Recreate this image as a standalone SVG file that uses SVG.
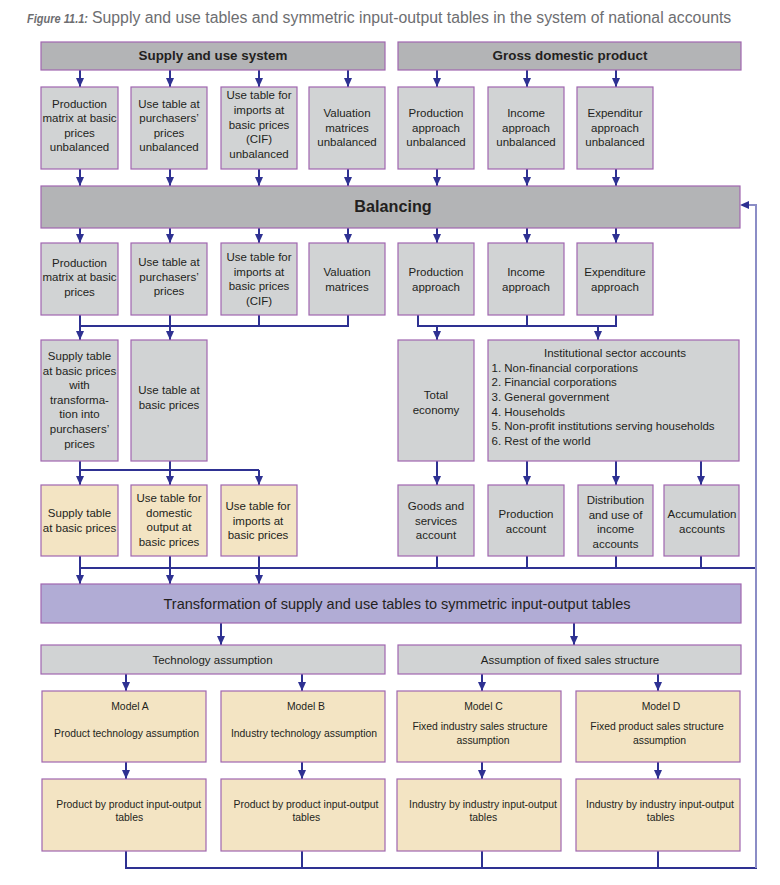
<svg xmlns="http://www.w3.org/2000/svg" width="780" height="885" viewBox="0 0 780 885">
<style>
.bx{stroke:#a066b0;stroke-width:1.2}
.hd{fill:#b3b4b6}
.gr{fill:#d1d3d4}
.bg{fill:#f3e4c3}
.lv{fill:#b1acd5}
text{font-family:"Liberation Sans",Arial,sans-serif;fill:#231f20}
.t{font-size:11.5px;text-anchor:middle}
.tl{font-size:11.5px}
.m{font-size:10.4px;text-anchor:middle}
.h{font-size:13.4px;font-weight:bold;text-anchor:middle}
.c{fill:none;stroke:#2e3192;stroke-width:2}
.a{fill:none;stroke:#2e3192;stroke-width:2;marker-end:url(#ah)}
.lt{fill:none;stroke:#8b8dc6;stroke-width:2}
</style>
<defs>
<marker id="ah" markerUnits="userSpaceOnUse" markerWidth="10" markerHeight="9" refX="9" refY="4" orient="auto">
<path d="M0,0 L9,4 L0,8 z" fill="#2e3192"/>
</marker>
</defs>
<rect width="780" height="885" fill="#ffffff"/>
<g id="title">
<text x="27" y="23" font-size="13" font-weight="bold" font-style="italic" style="fill:#6d6e71" textLength="61" lengthAdjust="spacingAndGlyphs">Figure 11.1:</text>
<text x="92" y="23" font-size="15.8" style="fill:#6d6e71">Supply and use tables and symmetric input-output tables in the system of national accounts</text>
</g>

<g id="connectors">
<!-- header to row2 -->
<path class="a" d="M80,70V87"/>
<path class="a" d="M170,70V87"/>
<path class="a" d="M259,70V87"/>
<path class="a" d="M348,70V87"/>
<path class="a" d="M437,70V87"/>
<path class="a" d="M527,70V87"/>
<path class="a" d="M616,70V87"/>
<!-- row2 to balancing -->
<path class="a" d="M80,169V186"/>
<path class="a" d="M170,169V186"/>
<path class="a" d="M259,169V186"/>
<path class="a" d="M348,169V186"/>
<path class="a" d="M437,169V186"/>
<path class="a" d="M527,169V186"/>
<path class="a" d="M616,169V186"/>
<!-- balancing to row4 -->
<path class="a" d="M80,228V243"/>
<path class="a" d="M170,228V243"/>
<path class="a" d="M259,228V243"/>
<path class="a" d="M348,228V243"/>
<path class="a" d="M437,228V243"/>
<path class="a" d="M527,228V243"/>
<path class="a" d="M616,228V243"/>
<!-- row4 merges -->
<path class="c" d="M80,315V326H348V315M170,315V326M259,315V326"/>
<path class="a" d="M80,326V340"/>
<path class="a" d="M170,326V340"/>
<path class="c" d="M418,315V326H616V315M527,315V326"/>
<path class="a" d="M437,326V340"/>
<path class="a" d="M598,326V340"/>
<!-- row5 to row6 -->
<path class="c" d="M80,461V470H259M170,461V470"/>
<path class="a" d="M80,470V485"/>
<path class="a" d="M170,470V485"/>
<path class="a" d="M259,470V485"/>
<path class="a" d="M437,461V485"/>
<path class="a" d="M527,461V485"/>
<path class="a" d="M616,461V485"/>
<path class="a" d="M701,461V485"/>
<!-- row6 to transformation -->
<path class="c" d="M80,556V568H757M170,556V568M259,556V568M437,556V568M527,556V568M616,556V568M701,556V568"/>
<path class="a" d="M80,568V584"/>
<path class="a" d="M170,568V584"/>
<path class="a" d="M259,568V584"/>
<!-- transformation to assumptions -->
<path class="a" d="M221,623V645"/>
<path class="a" d="M574,623V645"/>
<!-- assumptions to models -->
<path class="a" d="M126,674V691"/>
<path class="a" d="M302,674V691"/>
<path class="a" d="M482,674V691"/>
<path class="a" d="M658,674V691"/>
<!-- models to outputs -->
<path class="a" d="M126,762V779"/>
<path class="a" d="M302,762V779"/>
<path class="a" d="M482,762V779"/>
<path class="a" d="M658,762V779"/>
<!-- outputs to bottom line -->
<path class="c" d="M126,851V868H757M302,851V868M482,851V868M658,851V868"/>
<!-- feedback -->
<path class="lt" d="M756,868V205H749"/>
<path d="M740,205L749,201L749,209z" fill="#2e3192"/>
</g>

<g id="supply-use-system">
<rect class="bx hd" x="41" y="42" width="344" height="28"/>
<text class="h" x="213" y="60">Supply and use system</text>
</g>
<g id="gdp">
<rect class="bx hd" x="398" y="42" width="343" height="28"/>
<text class="h" x="570" y="60">Gross domestic product</text>
</g>

<g id="prod-matrix-unbal">
<rect class="bx gr" x="41" y="87" width="77" height="82"/>
<text class="t" x="79.5" y="107.5">Production</text>
<text class="t" x="79.5" y="122">matrix at basic</text>
<text class="t" x="79.5" y="136.5">prices</text>
<text class="t" x="79.5" y="151">unbalanced</text>
</g>
<g id="use-pp-unbal">
<rect class="bx gr" x="131" y="87" width="76" height="82"/>
<text class="t" x="169" y="107.5">Use table at</text>
<text class="t" x="169" y="122">purchasers’</text>
<text class="t" x="169" y="136.5">prices</text>
<text class="t" x="169" y="151">unbalanced</text>
</g>
<g id="use-imp-unbal">
<rect class="bx gr" x="221" y="87" width="76" height="82"/>
<text class="t" x="259" y="99">Use table for</text>
<text class="t" x="259" y="114">imports at</text>
<text class="t" x="259" y="128.5">basic  prices</text>
<text class="t" x="259" y="143">(CIF)</text>
<text class="t" x="259" y="158">unbalanced</text>
</g>
<g id="valuation-unbal">
<rect class="bx gr" x="309" y="87" width="76" height="82"/>
<text class="t" x="347" y="117">Valuation</text>
<text class="t" x="347" y="131.5">matrices</text>
<text class="t" x="347" y="146">unbalanced</text>
</g>
<g id="prod-app-unbal">
<rect class="bx gr" x="398" y="87" width="76" height="82"/>
<text class="t" x="436" y="117">Production</text>
<text class="t" x="436" y="131.5">approach</text>
<text class="t" x="436" y="146">unbalanced</text>
</g>
<g id="inc-app-unbal">
<rect class="bx gr" x="488" y="87" width="76" height="82"/>
<text class="t" x="526" y="117">Income</text>
<text class="t" x="526" y="131.5">approach</text>
<text class="t" x="526" y="146">unbalanced</text>
</g>
<g id="exp-app-unbal">
<rect class="bx gr" x="577" y="87" width="76" height="82"/>
<text class="t" x="615" y="117">Expenditur</text>
<text class="t" x="615" y="131.5">approach</text>
<text class="t" x="615" y="146">unbalanced</text>
</g>

<g id="balancing">
<rect class="bx hd" x="41" y="186" width="699" height="42"/>
<text x="393" y="212" font-size="16.2" font-weight="bold" text-anchor="middle">Balancing</text>
</g>

<g id="prod-matrix">
<rect class="bx gr" x="41" y="243" width="77" height="72"/>
<text class="t" x="79.5" y="266.5">Production</text>
<text class="t" x="79.5" y="281">matrix at basic</text>
<text class="t" x="79.5" y="295.5">prices</text>
</g>
<g id="use-pp">
<rect class="bx gr" x="131" y="243" width="76" height="72"/>
<text class="t" x="169" y="266">Use table at</text>
<text class="t" x="169" y="280.5">purchasers’</text>
<text class="t" x="169" y="295">prices</text>
</g>
<g id="use-imp">
<rect class="bx gr" x="221" y="243" width="76" height="72"/>
<text class="t" x="259" y="261">Use table for</text>
<text class="t" x="259" y="275.5">imports at</text>
<text class="t" x="259" y="290">basic prices</text>
<text class="t" x="259" y="304.5">(CIF)</text>
</g>
<g id="valuation">
<rect class="bx gr" x="309" y="243" width="76" height="72"/>
<text class="t" x="347" y="276">Valuation</text>
<text class="t" x="347" y="291">matrices</text>
</g>
<g id="prod-app">
<rect class="bx gr" x="398" y="243" width="76" height="72"/>
<text class="t" x="436" y="276">Production</text>
<text class="t" x="436" y="291">approach</text>
</g>
<g id="inc-app">
<rect class="bx gr" x="488" y="243" width="76" height="72"/>
<text class="t" x="526" y="276">Income</text>
<text class="t" x="526" y="291">approach</text>
</g>
<g id="exp-app">
<rect class="bx gr" x="577" y="243" width="76" height="72"/>
<text class="t" x="615" y="276">Expenditure</text>
<text class="t" x="615" y="291">approach</text>
</g>

<g id="supply-transf">
<rect class="bx gr" x="41" y="340" width="77" height="121"/>
<text class="t" x="79.5" y="360">Supply table</text>
<text class="t" x="79.5" y="374.6">at basic prices</text>
<text class="t" x="79.5" y="389.2">with</text>
<text class="t" x="79.5" y="403.8">transforma-</text>
<text class="t" x="79.5" y="418.4">tion into</text>
<text class="t" x="79.5" y="433">purchasers’</text>
<text class="t" x="79.5" y="447.6">prices</text>
</g>
<g id="use-bp">
<rect class="bx gr" x="131" y="340" width="76" height="121"/>
<text class="t" x="169" y="394">Use table at</text>
<text class="t" x="169" y="408.5">basic prices</text>
</g>
<g id="total-economy">
<rect class="bx gr" x="398" y="340" width="76" height="121"/>
<text class="t" x="436" y="399">Total</text>
<text class="t" x="436" y="414">economy</text>
</g>
<g id="inst-sector">
<rect class="bx gr" x="488" y="340" width="251" height="121"/>
<text class="t" x="615" y="357">Institutional sector accounts</text>
<text class="tl" x="491.5" y="371.5">1. Non-financial corporations</text>
<text class="tl" x="491.5" y="386.2">2. Financial corporations</text>
<text class="tl" x="491.5" y="400.9">3. General government</text>
<text class="tl" x="491.5" y="415.6">4. Households</text>
<text class="tl" x="491.5" y="430.3">5. Non-profit institutions serving households</text>
<text class="tl" x="491.5" y="445">6. Rest of the world</text>
</g>

<g id="supply-bp">
<rect class="bx bg" x="41" y="485" width="77" height="71"/>
<text class="t" x="79.5" y="517">Supply table</text>
<text class="t" x="79.5" y="532">at basic prices</text>
</g>
<g id="use-dom">
<rect class="bx bg" x="131" y="485" width="76" height="71"/>
<text class="t" x="169" y="502">Use table for</text>
<text class="t" x="169" y="516.6">domestic</text>
<text class="t" x="169" y="531.2">output at</text>
<text class="t" x="169" y="545.8">basic prices</text>
</g>
<g id="use-imp-bp">
<rect class="bx bg" x="221" y="485" width="76" height="71"/>
<text class="t" x="258" y="510">Use table for</text>
<text class="t" x="258" y="524.6">imports at</text>
<text class="t" x="258" y="539.2">basic prices</text>
</g>
<g id="goods-services">
<rect class="bx gr" x="398" y="485" width="76" height="71"/>
<text class="t" x="436" y="510">Goods and</text>
<text class="t" x="436" y="524.6">services</text>
<text class="t" x="436" y="539.2">account</text>
</g>
<g id="production-account">
<rect class="bx gr" x="488" y="485" width="76" height="71"/>
<text class="t" x="526" y="518">Production</text>
<text class="t" x="526" y="532.6">account</text>
</g>
<g id="distribution">
<rect class="bx gr" x="578" y="485" width="75" height="71"/>
<text class="t" x="615.5" y="504">Distribution</text>
<text class="t" x="615.5" y="518.6">and use of</text>
<text class="t" x="615.5" y="533.2">income</text>
<text class="t" x="615.5" y="547.8">accounts</text>
</g>
<g id="accumulation">
<rect class="bx gr" x="664" y="485" width="75" height="71"/>
<text class="t" x="702" y="518">Accumulation</text>
<text class="t" x="702" y="532.5">accounts</text>
</g>

<g id="transformation">
<rect class="bx lv" x="41" y="584" width="700" height="39"/>
<text x="397" y="608.5" font-size="14.5" text-anchor="middle">Transformation of supply and use tables to symmetric input-output tables</text>
</g>

<g id="technology">
<rect class="bx gr" x="41" y="645" width="344" height="29"/>
<text class="t" x="212.5" y="664">Technology assumption</text>
</g>
<g id="fixed-sales">
<rect class="bx gr" x="398" y="645" width="343" height="29"/>
<text class="t" x="570" y="664">Assumption of fixed sales structure</text>
</g>

<g id="model-a">
<rect class="bx bg" x="42" y="691" width="164" height="71"/>
<text class="m" x="130" y="710.3">Model A</text>
<text class="m" x="126.5" y="737">Product technology assumption</text>
</g>
<g id="model-b">
<rect class="bx bg" x="221" y="691" width="164" height="71"/>
<text class="m" x="306" y="710.3">Model B</text>
<text class="m" x="304" y="737">Industry technology assumption</text>
</g>
<g id="model-c">
<rect class="bx bg" x="397" y="691" width="164" height="71"/>
<text class="m" x="483.5" y="710.3">Model C</text>
<text class="m" x="480" y="730.3">Fixed industry sales structure</text>
<text class="m" x="483" y="743.6">assumption</text>
</g>
<g id="model-d">
<rect class="bx bg" x="576" y="691" width="164" height="71"/>
<text class="m" x="661" y="710.3">Model D</text>
<text class="m" x="657" y="730.3">Fixed product sales structure</text>
<text class="m" x="659.5" y="743.6">assumption</text>
</g>

<g id="out-a">
<rect class="bx bg" x="42" y="779" width="164" height="72"/>
<text class="m" x="128.7" y="807.6">Product by product input-output</text>
<text class="m" x="129.3" y="821">tables</text>
</g>
<g id="out-b">
<rect class="bx bg" x="221" y="779" width="164" height="72"/>
<text class="m" x="306" y="807.6">Product by product input-output</text>
<text class="m" x="306.3" y="821">tables</text>
</g>
<g id="out-c">
<rect class="bx bg" x="397" y="779" width="164" height="72"/>
<text class="m" x="483" y="807.6">Industry by industry input-output</text>
<text class="m" x="483.3" y="821">tables</text>
</g>
<g id="out-d">
<rect class="bx bg" x="576" y="779" width="164" height="72"/>
<text class="m" x="660" y="807.6">Industry by industry input-output</text>
<text class="m" x="660.7" y="821">tables</text>
</g>
</svg>
